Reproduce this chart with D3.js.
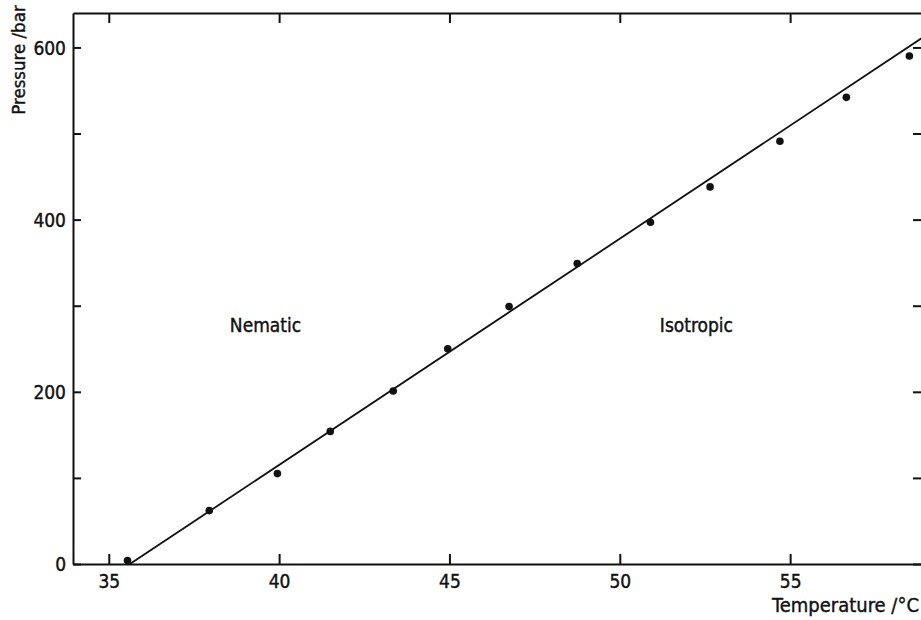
<!DOCTYPE html>
<html>
<head>
<meta charset="utf-8">
<script src="https://cdn.jsdelivr.net/npm/d3@7"></script>
<style>
  body { margin: 0; background: #fff; }
  svg text { font-family: "DejaVu Sans Condensed", "DejaVu Sans", sans-serif; fill: #111; stroke: #111; stroke-width: 0.4px; }
  .axis path, .axis line { fill: none; stroke: #111; stroke-width: 2px; }
  .axis text { font-size: 19px; }
  .fit { fill: none; stroke: #111; stroke-width: 1.8px; }
</style>
</head>
<body>
<div id="graph"></div>
<script>
// measured transition points
var temperature = [35.55, 37.95, 39.95, 41.5, 43.35, 44.95, 46.75, 48.75, 50.9, 52.65, 54.7, 56.65, 58.5];
var pressure    = [4, 62, 105, 154, 201, 250, 299, 349, 397, 438, 491, 542, 590];
// fitted line (ends)
var fitT = [35.62, 58.95];
var fitP = [0, 613];
var xTicks = [35, 40, 45, 50, 55];
var yTicks = [0, 100, 200, 300, 400, 500, 600];
var yLabels = [0, 200, 400, 600];
var regions = [{name: 'Nematic', t: 39.6, p: 270}, {name: 'Isotropic', t: 52.25, p: 270}];

var W = 921, H = 620;
var x = d3.scaleLinear().domain([33.95, 58.9]).range([73, 923]);
var y = d3.scaleLinear().domain([0, 640]).range([564, 13]);

var svg = d3.select('#graph').append('svg').attr('width', W).attr('height', H);

// bottom axis, ticks pointing inward
svg.append('g').attr('class', 'axis')
  .attr('transform', 'translate(0,' + y(0) + ')')
  .call(d3.axisBottom(x).tickValues(xTicks).tickSizeInner(-10).tickSizeOuter(0).tickPadding(15))
  .selectAll('text').attr('dy', '0.45em');

// top axis
svg.append('g').attr('class', 'axis')
  .attr('transform', 'translate(0,' + y(640) + ')')
  .call(d3.axisTop(x).tickValues(xTicks).tickSizeInner(-10).tickSizeOuter(0).tickFormat(''));

// left axis
svg.append('g').attr('class', 'axis')
  .attr('transform', 'translate(' + x(33.95) + ',0)')
  .call(d3.axisLeft(y).tickValues(yTicks).tickSizeInner(-8).tickSizeOuter(0).tickPadding(7)
    .tickFormat(function(d){ return yLabels.indexOf(d) >= 0 ? d : ''; }))
  .selectAll('text').attr('dy', '0.35em');

// right axis (mostly off the page)
svg.append('g').attr('class', 'axis')
  .attr('transform', 'translate(' + x(58.9) + ',0)')
  .call(d3.axisRight(y).tickValues(yTicks).tickSizeInner(-10).tickSizeOuter(0).tickFormat(''));

// fit line
var line = d3.line().x(function(d){ return x(d[0]); }).y(function(d){ return y(d[1]); });
svg.append('path').attr('class', 'fit')
  .datum(d3.zip(fitT, fitP))
  .attr('d', line);

// points
svg.selectAll('circle.pt').data(d3.zip(temperature, pressure)).enter()
  .append('circle').attr('class', 'pt')
  .attr('cx', function(d){ return x(d[0]); })
  .attr('cy', function(d){ return y(d[1]); })
  .attr('r', 3.8)
  .style('fill', '#111');

// region labels
svg.selectAll('text.region').data(regions).enter()
  .append('text').attr('class', 'region')
  .attr('x', function(d){ return x(d.t); })
  .attr('y', function(d){ return y(d.p); })
  .attr('text-anchor', 'middle')
  .style('font-size', '19px')
  .text(function(d){ return d.name; });

// axis titles
svg.append('text')
  .attr('x', 919).attr('y', 612)
  .attr('text-anchor', 'end')
  .style('font-size', '20px')
  .text('Temperature /°C');

svg.append('text')
  .attr('transform', 'translate(25,60) rotate(-90)')
  .attr('text-anchor', 'middle')
  .style('font-size', '18.5px')
  .text('Pressure /bar');
</script>
</body>
</html>
